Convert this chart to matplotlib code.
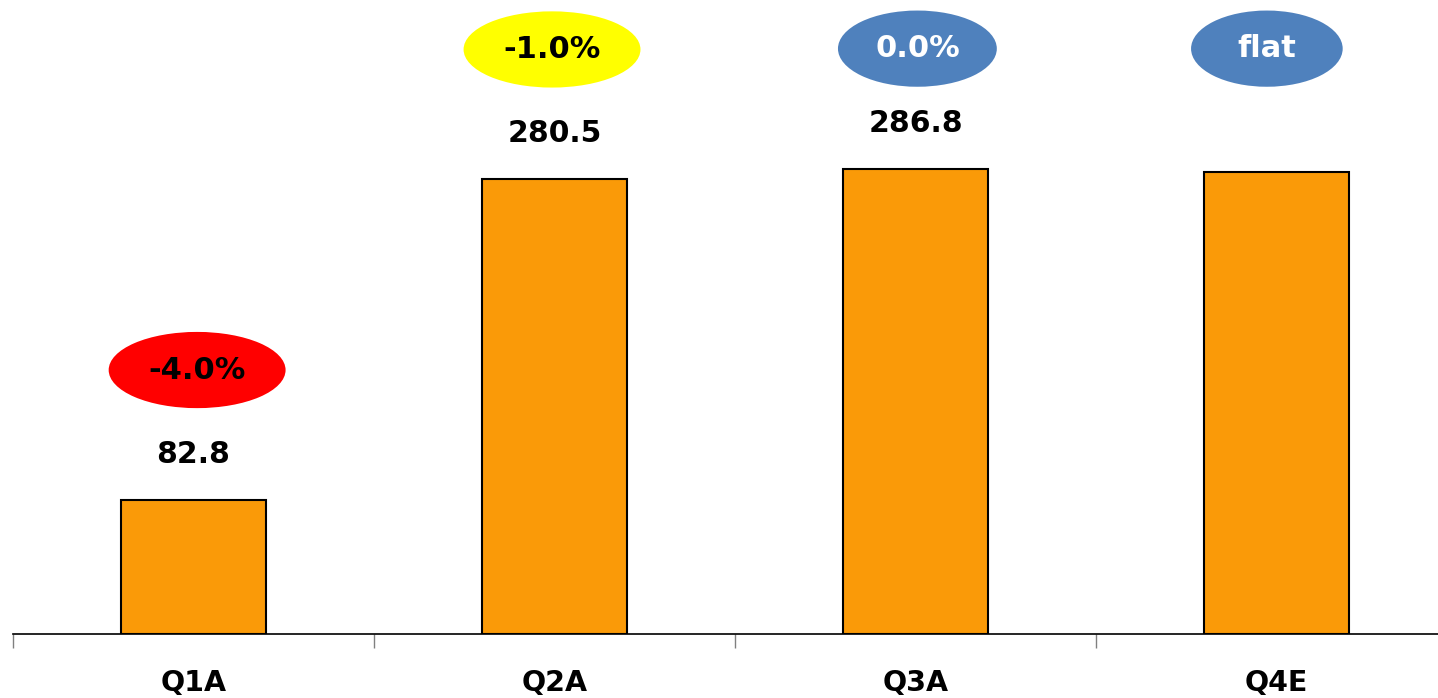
import matplotlib.pyplot as plt
from matplotlib.patches import Ellipse

# quarterly values (Q4 is an estimate, no label shown)
quarters = ['Q1A', 'Q2A', 'Q3A', 'Q4E']
values = [82.8, 280.5, 286.8, 285.0]
value_labels = ['82.8', '280.5', '286.8', '']

# change bubbles above each bar
bubble_text = ['-4.0%', '-1.0%', '0.0%', 'flat']
bubble_color = ['#FF0000', '#FFFF00', '#4F81BD', '#4F81BD']
bubble_textcolor = ['black', 'black', 'white', 'white']

fig = plt.figure(figsize=(14.38, 6.98), dpi=100)
ax = fig.add_axes([13 / 1438, 64 / 698, 1 - 13 / 1438, 634 / 698])

x = range(len(quarters))
ax.bar(x, values, width=0.4, color='#FA9A08', edgecolor='black', linewidth=1.5, zorder=2)

ax.set_xlim(-0.5, 3.447)
ax.set_ylim(0, 391)

bubble_w = [0.49, 0.49, 0.44, 0.42]
bubble_dx = [0.01, -0.007, 0.005, -0.027]
for i, v in enumerate(values):
    if value_labels[i]:
        ax.text(i, v + 28, value_labels[i], ha='center', va='center',
                fontsize=21.5, fontweight='bold')
    by = min(v + 80, 361)
    e = Ellipse((i + bubble_dx[i], by), bubble_w[i], 47,
                facecolor=bubble_color[i], edgecolor='none', zorder=3)
    ax.add_patch(e)
    ax.text(i + bubble_dx[i], by, bubble_text[i], ha='center', va='center',
            fontsize=22, fontweight='bold', color=bubble_textcolor[i], zorder=4)

for s in ['top', 'right', 'left']:
    ax.spines[s].set_visible(False)
ax.spines['bottom'].set_linewidth(1.2)
ax.set_yticks([])

ax.set_xticks(list(x))
ax.set_xticklabels(quarters, fontsize=20.5, fontweight='bold')
ax.tick_params(axis='x', which='major', length=0, pad=25)
ax.set_xticks([-0.5, 0.5, 1.5, 2.5], minor=True)
ax.tick_params(axis='x', which='minor', length=10, color='gray', width=1)

fig.savefig('out.png', dpi=100)
